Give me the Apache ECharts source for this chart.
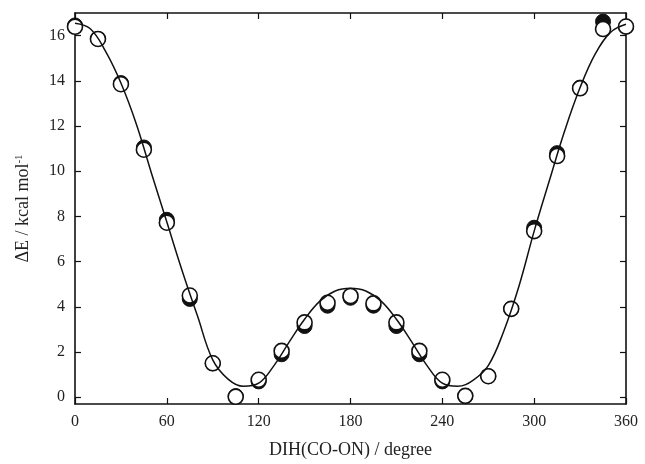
<!DOCTYPE html>
<html>
<head>
<meta charset="utf-8">
<script src="https://cdn.jsdelivr.net/npm/echarts@6/dist/echarts.min.js"></script>
<style>html,body{margin:0;padding:0;background:#fff}#c{width:645px;height:464px}</style>
</head>
<body>
<div id="c"></div>
<script>
// Data
var angles = [0,15,30,45,60,75,90,105,120,135,150,165,180,195,210,225,240,255,270,285,300,315,330,345,360];
var filledValues = [16.45,15.85,13.9,11.05,7.85,4.35,1.5,0.05,0.7,1.9,3.15,4.05,4.4,4.05,3.15,1.9,0.7,0.05,0.93,3.91,7.5,10.8,13.7,16.62,16.4];
var openValues = [16.39,15.85,13.85,10.95,7.72,4.5,1.5,0.02,0.77,2.05,3.31,4.18,4.48,4.15,3.31,2.05,0.77,0.06,0.93,3.91,7.35,10.67,13.67,16.29,16.4];
var curveAngles = [0,10,20,30,40,50,60,70,80,90,100,110,120,130,140,150,160,170,180,190,200,210,220,230,240,250,260,270,280,290,300,310,320,330,340,350,360];
var curveValues = [16.55,16.3,15.3,13.9,12.1,9.9,7.75,5.6,3.6,1.65,0.8,0.48,0.62,1.4,2.45,3.45,4.25,4.7,4.82,4.7,4.25,3.45,2.45,1.4,0.62,0.48,0.75,1.4,2.9,4.9,7.35,9.6,11.8,13.7,15.2,16.15,16.5];
var xTicks = [0,60,120,180,240,300,360];
var yTicks = [0,2,4,6,8,10,12,14,16];

function pairs(xs, ys){ return xs.map(function(x,i){ return [x, ys[i]]; }); }

var font = 'Liberation Serif';
var axisLineStyle = {color:'#111', width:1.6};
var tickStyle = {color:'#111', width:1.2};
var chart = echarts.init(document.getElementById('c'), null, {renderer:'canvas'});
chart.setOption({
  animation:false,
  backgroundColor:'#fff',
  grid:{left:75, right:19, top:13, bottom:54, containLabel:false},
  xAxis:[{
    type:'value', min:0, max:360, interval:60, position:'bottom',
    axisLine:{show:true, onZero:false, lineStyle:axisLineStyle},
    axisTick:{show:true, inside:true, length:6, lineStyle:tickStyle},
    axisLabel:{color:'#222', fontFamily:font, fontSize:16, margin:10},
    splitLine:{show:false},
    name:'DIH(CO-ON) / degree', nameLocation:'middle', nameGap:37,
    nameTextStyle:{color:'#222', fontFamily:font, fontSize:18}
  },{
    type:'value', min:0, max:360, interval:60, position:'top',
    axisLine:{show:true, onZero:false, lineStyle:axisLineStyle},
    axisTick:{show:true, inside:true, length:6, lineStyle:tickStyle},
    axisLabel:{show:false}, splitLine:{show:false}
  }],
  yAxis:[{
    type:'value', min:-0.3, max:17, position:'left',
    axisLine:{show:true, onZero:false, lineStyle:axisLineStyle},
    axisTick:{show:true, inside:true, length:6, customValues:yTicks, lineStyle:tickStyle},
    axisLabel:{color:'#222', fontFamily:font, fontSize:16, margin:10, customValues:yTicks},
    splitLine:{show:false},
    name:'{a|ΔE / kcal mol}{s|-1}', nameLocation:'middle', nameGap:42,
    nameTextStyle:{color:'#222', fontFamily:font, fontSize:18,
      rich:{a:{fontFamily:font, fontSize:18, color:'#222'}, s:{fontFamily:font, fontSize:11, color:'#222', verticalAlign:'top', padding:[0,0,8,0]}}}
  },{
    type:'value', min:-0.3, max:17, position:'right',
    axisLine:{show:true, onZero:false, lineStyle:axisLineStyle},
    axisTick:{show:true, inside:true, length:6, customValues:yTicks, lineStyle:tickStyle},
    axisLabel:{show:false}, splitLine:{show:false}
  }],
  series:[{
    type:'scatter', xAxisIndex:0, yAxisIndex:0, data:pairs(angles, filledValues),
    symbol:'circle', symbolSize:15, itemStyle:{color:'#111', borderColor:'#111', borderWidth:1, opacity:1}, z:2
  },{
    type:'scatter', xAxisIndex:0, yAxisIndex:0, data:pairs(angles, openValues),
    symbol:'circle', symbolSize:15, itemStyle:{color:'#fff', borderColor:'#111', borderWidth:1.6, opacity:1}, z:3
  },{
    type:'line', xAxisIndex:0, yAxisIndex:0, data:pairs(curveAngles, curveValues),
    smooth:0.4, showSymbol:false, symbol:'none', lineStyle:{color:'#111', width:1.5}, z:4
  }]
});
</script>
</body>
</html>
